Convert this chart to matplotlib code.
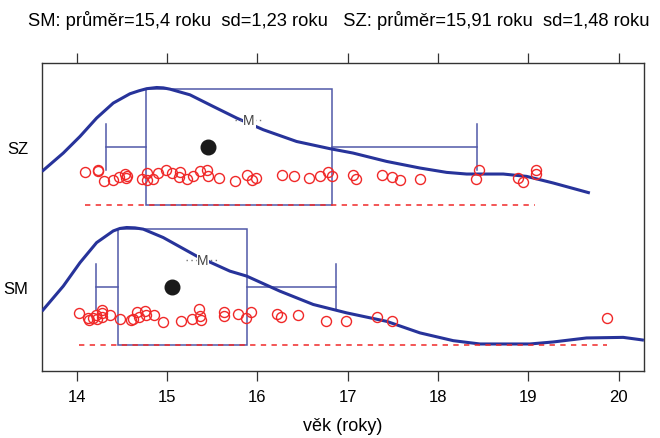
import numpy as np
import matplotlib.pyplot as plt

plt.rcParams['font.family'] = ['Liberation Sans', 'DejaVu Sans']

titulek = "SM: průměr=15,4 roku  sd=1,23 roku   SZ: průměr=15,91 roku  sd=1,48 roku"
skupiny = ['SM', 'SZ']
pozice = [1, 2]

# věk jednotlivých osob (roky) a svislý rozptyl bodů (jitter)
vek_sz = [14.093, 14.234, 14.242, 14.303, 14.400, 14.473, 14.536, 14.547, 14.558, 14.721,
          14.776, 14.783, 14.849, 14.904, 14.990, 15.053, 15.144, 15.137, 15.219, 15.285,
          15.366, 15.447, 15.458, 15.579, 15.753, 15.883, 15.938, 15.986, 16.277, 16.410,
          16.572, 16.694, 16.786, 16.823, 17.056, 17.092, 17.384, 17.488, 17.580, 17.801,
          18.421, 18.457, 18.889, 18.944, 19.081, 19.085]
jitter_sz = [-0.181, -0.167, -0.173, -0.241, -0.234, -0.214, -0.191, -0.224, -0.205, -0.229,
             -0.186, -0.234, -0.226, -0.186, -0.162, -0.186, -0.181, -0.217, -0.229, -0.205,
             -0.174, -0.162, -0.205, -0.221, -0.241, -0.198, -0.234, -0.221, -0.198, -0.210,
             -0.224, -0.210, -0.179, -0.205, -0.198, -0.226, -0.198, -0.217, -0.234, -0.226,
             -0.226, -0.162, -0.219, -0.253, -0.166, -0.194]

vek_sm = [14.027, 14.129, 14.143, 14.185, 14.215, 14.229, 14.278, 14.276, 14.278, 14.375,
          14.480, 14.597, 14.624, 14.672, 14.691, 14.757, 14.768, 14.860, 14.956, 15.161,
          15.274, 15.358, 15.366, 15.374, 15.631, 15.631, 15.790, 15.875, 15.927, 16.218,
          16.259, 16.450, 16.760, 16.987, 17.325, 17.488, 19.874]
jitter_sm = [-0.187, -0.219, -0.233, -0.219, -0.203, -0.226, -0.166, -0.189, -0.216, -0.201,
             -0.226, -0.233, -0.230, -0.179, -0.212, -0.168, -0.198, -0.201, -0.251, -0.241,
             -0.228, -0.160, -0.206, -0.234, -0.179, -0.210, -0.192, -0.224, -0.179, -0.196,
             -0.216, -0.198, -0.241, -0.241, -0.216, -0.241, -0.224]

# krabicové grafy (pořadí SM, SZ)
q1 = [14.455, 14.77]
q3 = [15.89, 16.83]
vous_dolni = [14.215, 14.325]
vous_horni = [16.87, 18.43]
median = [15.053, 15.458]
prumer = [15.40, 15.91]
chyba_prumeru = [0.19, 0.16]
minimum = [14.03, 14.09]
maximum = [19.87, 19.08]

# odhad hustoty (relativní výška)
hust_sm_x = [13.617, 13.853, 14.038, 14.222, 14.406, 14.48, 14.554, 14.646, 14.738, 14.959,
             15.328, 15.697, 15.882, 16.251, 16.620, 16.989, 17.432, 17.801, 18.170, 18.465,
             19.018, 19.276, 19.645, 20.051, 20.236, 20.28]
hust_sm_y = [0.290, 0.503, 0.702, 0.872, 0.971, 0.992, 1.0, 0.997, 0.986, 0.915,
             0.758, 0.630, 0.588, 0.460, 0.347, 0.276, 0.204, 0.106, 0.040, 0.012,
             0.012, 0.029, 0.063, 0.068, 0.049, 0.044]
hust_sz_x = [13.617, 13.853, 14.038, 14.222, 14.406, 14.591, 14.69, 14.776, 14.887, 14.96,
             15.034, 15.255, 15.513, 15.772, 16.066, 16.436, 16.805, 17.060, 17.432, 17.801,
             18.096, 18.318, 18.723, 18.982, 19.276, 19.682]
hust_sz_y = [0.288, 0.444, 0.585, 0.741, 0.868, 0.947, 0.972, 0.990, 1.0, 0.997,
             0.986, 0.938, 0.839, 0.741, 0.642, 0.542, 0.481, 0.444, 0.373, 0.317,
             0.280, 0.266, 0.266, 0.246, 0.190, 0.105]

body_x = [vek_sm, vek_sz]
body_j = [jitter_sm, jitter_sz]
hust_x = [hust_sm_x, hust_sz_x]
hust_y = [hust_sm_y, hust_sz_y]

c_box = '#5159a8'
c_hust = '#27339a'
c_bod = '#f02828'

fig = plt.figure(figsize=(6.6, 4.39), dpi=100)
ax = fig.add_axes([0.0636, 0.1526, 0.912, 0.7016])

pul = 0.417   # polovina výšky krabice
cap = 0.163
for i, p in enumerate(pozice):
    # krabice
    ax.add_patch(plt.Rectangle((q1[i], p - pul), q3[i] - q1[i], 2 * pul,
                               fill=False, ec=c_box, lw=1.1, zorder=2))
    # vousy
    ax.plot([vous_dolni[i], q1[i]], [p, p], color=c_box, lw=1.1, zorder=2)
    ax.plot([q3[i], vous_horni[i]], [p, p], color=c_box, lw=1.1, zorder=2)
    ax.plot([vous_dolni[i]] * 2, [p - cap, p + cap], color=c_box, lw=1.1, zorder=2)
    ax.plot([vous_horni[i]] * 2, [p - cap, p + cap], color=c_box, lw=1.1, zorder=2)
    # hustota
    ax.plot(hust_x[i], p - pul + 0.842 * np.array(hust_y[i]), color=c_hust, lw=2.2,
            zorder=3, solid_capstyle='butt', solid_joinstyle='round')
    # rozsah
    ax.plot([minimum[i], maximum[i]], [p - pul, p - pul], color=c_bod, lw=1.1,
            ls=(0, (3.5, 3.5)), zorder=3)
    # body
    ax.plot(body_x[i], p + np.array(body_j[i]), 'o', mfc='none', mec=c_bod,
            mew=1.0, ms=7.2, zorder=4)
    # medián
    ax.plot(median[i], p, 'o', color='#1a1a1a', ms=10.5, zorder=5)
    # průměr
    ax.plot([prumer[i] - chyba_prumeru[i], prumer[i] + chyba_prumeru[i]],
            [p + 0.19, p + 0.19], color='#777777', lw=1.0, ls=(0, (1, 2.5)), zorder=3)
    ax.text(prumer[i], p + 0.19, 'M', ha='center', va='center', fontsize=10,
            color='#444444', zorder=6,
            bbox=dict(boxstyle='square,pad=0.05', fc='white', ec='none'))

ax.set_xlim(13.617, 20.28)
ax.set_ylim(0.4, 2.6)
ax.set_xticks(range(14, 21))
ax.set_yticks(pozice)
ax.set_yticklabels(skupiny)
ax.tick_params(axis='x', which='both', direction='out', length=7, width=0.9,
               top=True, labeltop=False, labelsize=12, pad=6, color='#333333')
ax.tick_params(axis='y', length=0, labelsize=12, pad=10)
for s in ax.spines.values():
    s.set_linewidth(1.0)
    s.set_color('#333333')
ax.set_xlabel('věk (roky)', fontsize=13, labelpad=9)

fig.text(0.514, 1 - 20 / 439, titulek, ha='center', va='center', fontsize=13.2)

fig.savefig('out.png', dpi=100)
